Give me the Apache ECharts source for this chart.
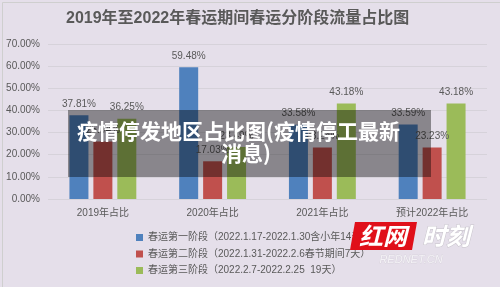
<!DOCTYPE html>
<html><head><meta charset="utf-8">
<script src="https://cdn.jsdelivr.net/npm/echarts@6/dist/echarts.min.js"></script>
<style>html,body{margin:0;padding:0;background:#e5dfea;}#c{width:500px;height:287px;}</style>
</head><body><div id="c"></div>
<script>
const categories = ['2019年占比', '2020年占比', '2021年占比', '预计2022年占比'];
const seriesNames = [
  '春运第一阶段（2022.1.17-2022.1.30含小年14天）',
  '春运第二阶段（2022.1.31-2022.2.6春节期间7天）',
  '春运第三阶段（2022.2.7-2022.2.25  19天）'
];
const stage1 = [37.81, 59.48, 33.58, 33.59];
const stage2 = [25.94, 17.03, 23.24, 23.23];
const stage3 = [36.25, 23.49, 43.18, 43.18];
const yTicks = [0, 10, 20, 30, 40, 50, 60, 70];
const colors = ['#4f81bd', '#c0504d', '#9bbb59'];
const titleText = '2019年至2022年春运期间春运分阶段流量占比图';
const overlayLine1 = '疫情停发地区占比图(疫情停工最新';
const overlayLine2 = '消息)';

const FONT = '"Liberation Sans", "Noto Sans CJK SC", sans-serif';
const chart = echarts.init(document.getElementById('c'));
const mk = (name, data, i) => ({
  name, type: 'bar', data, barWidth: 19, barGap: '26%',
  itemStyle: { color: colors[i] },
  label: { show: true, position: 'top', distance: 6, color: '#595959', fontSize: 10, fontFamily: FONT,
    formatter: p => p.value.toFixed(2) + '%' }
});
chart.setOption({
  backgroundColor: '#e5dfea',
  animation: false,
  title: { text: titleText, left: 66, top: 11, padding: 0,
    textStyle: { fontSize: 16, fontWeight: 'bold', color: '#595959', fontFamily: FONT } },
  grid: { left: 48, right: 13, top: 44, bottom: 88 },
  legend: { orient: 'vertical', left: 136, top: 232.5, padding: 0, itemWidth: 7, itemHeight: 7, icon: 'rect', itemGap: 6.5,
    textStyle: { fontSize: 10, color: '#595959', fontFamily: FONT }, data: seriesNames },
  xAxis: { type: 'category', data: categories,
    axisLine: { show: false }, axisTick: { show: false },
    axisLabel: { color: '#595959', fontSize: 10, fontFamily: FONT, margin: 9 } },
  yAxis: { type: 'value', min: yTicks[0], max: yTicks[yTicks.length - 1], interval: 10,
    axisLabel: { color: '#595959', fontSize: 10, fontFamily: FONT, margin: 8, formatter: v => v.toFixed(2) + '%' },
    splitLine: { lineStyle: { color: '#d6d2da', width: 1 } } },
  series: [mk(seriesNames[0], stage1, 0), mk(seriesNames[1], stage2, 1), mk(seriesNames[2], stage3, 2)],
  graphic: [
    { type: 'rect', left: 0, top: 0, z: 200, silent: true,
      shape: { x: 0.5, y: 0.5, width: 499, height: 286 },
      style: { fill: 'none', stroke: '#cfcfcf', lineWidth: 1 } },
    { type: 'rect', z: 100, shape: { x: 68, y: 110, width: 363, height: 67 },
      style: { fill: 'rgba(0,0,0,0.4)' } },
    { type: 'text', z: 101, x: 77, y: 131,
      style: { text: overlayLine1, fill: '#ffffff', font: 'bold 21px "Noto Sans CJK SC", sans-serif',
        align: 'left', verticalAlign: 'middle' } },
    { type: 'text', z: 101, x: 246, y: 153,
      style: { text: overlayLine2, fill: '#ffffff', font: 'bold 21px "Noto Sans CJK SC", sans-serif',
        align: 'center', verticalAlign: 'middle' } },
    { type: 'polygon', z: 102, shape: { points: [[355, 222], [417, 222], [412, 250], [350, 250]] },
      style: { fill: '#e0101a' } },
    { type: 'text', z: 103, x: 383, y: 236,
      style: { text: '红网', fill: '#ffffff', font: 'italic bold 24px "Noto Sans CJK SC", sans-serif',
        align: 'center', verticalAlign: 'middle' } },
    { type: 'text', z: 103, x: 446, y: 236,
      style: { text: '时刻', fill: '#ffffff', font: 'italic bold 24px "Noto Sans CJK SC", sans-serif',
        align: 'center', verticalAlign: 'middle', stroke: '#c8c4cc', lineWidth: 1 } },
    { type: 'text', z: 103, x: 411, y: 260,
      style: { text: 'REDNET.CN', fill: '#f4f2f6', font: 'italic 11px "Liberation Sans", sans-serif',
        align: 'center', verticalAlign: 'middle', stroke: '#d0ccd4', lineWidth: 0.5 } }
  ]
});
</script></body></html>
